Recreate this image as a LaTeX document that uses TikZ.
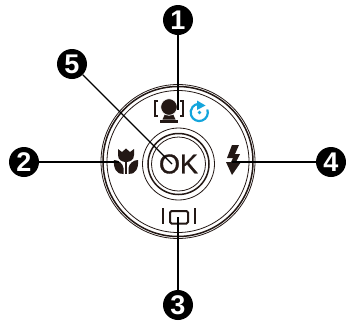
\documentclass[tikz,border=0pt]{standalone}
\usepackage{fontspec}
\setmainfont{Liberation Sans}
\newfontfamily\okfont[FakeBold=1.2]{Liberation Sans}
\definecolor{ink}{HTML}{231815}
\definecolor{cyanarrow}{HTML}{14A5DC}
\tikzset{x=1pt,y=-1pt,
 badge/.style={circle,fill=black,text=white,minimum size=30pt,inner sep=0pt,font=\fontsize{27}{27}\selectfont\bfseries},
 leader/.style={draw=black,line width=1.1pt},
 thin ring/.style={draw=ink,line width=.8pt},
 thick ring/.style={draw=ink,line width=1.5pt}}
\begin{document}
\begin{tikzpicture}
\useasboundingbox (0,0) rectangle (346,322);
\fill[white] (0,0) rectangle (346,322);
% dial rings
\draw[thin ring] (178,161.5) circle (77);
\draw[thick ring] (178,161.5) circle (75);
\draw[thin ring] (178,161.5) circle (71);
\draw[thin ring] (178.5,164) circle (36);
\draw[thick ring] (178.5,164) circle (30.5);
\draw[thin ring] (178.5,164) circle (27);
\node[font=\fontsize{27}{27}\okfont,text=ink,inner sep=0pt] (ok) at (178.5,164) {OK};
% face icon
\draw[ink,line width=2pt] (158,100.5)--(155,100.5)--(155,116)--(158,116);
\draw[ink,line width=2pt] (180,100.5)--(183,100.5)--(183,116)--(180,116);
\fill[ink] (165,114)--(173,114)--(175.5,119.5)--(162.5,119.5)--cycle;
\fill[ink] (160,120) rectangle (178,122.5);
\fill[ink,draw=white,line width=.7pt] (169,107) circle (8.3);
% cyan rotate icon
\draw[cyanarrow,line width=2.2pt] (207.3,109.5) arc[start angle=-20,end angle=262,radius=8.6];
\fill[cyanarrow] (197,100.5)--(205.5,105.5)--(197,110)--cycle;
\fill[cyanarrow] (199.5,112.5) circle (1.9);
% macro flower
\fill[ink] (118,149)--(122,152)--(126,148.5)--(130,152)--(134,149)--(134,155) .. controls (134,160) and (130,162) .. (126,162) .. controls (122,162) and (118,160) .. (118,155) -- cycle;
\fill[ink] (114,160) .. controls (119,160) and (123,164) .. (123.5,168) -- (123.5,174) .. controls (117,175) and (113,168) .. (114,160) -- cycle;
\fill[ink] (138,160) .. controls (133,160) and (129,164) .. (128.5,168) -- (128.5,174) .. controls (135,175) and (139,168) .. (138,160) -- cycle;
\fill[ink] (125,161) rectangle (127,174);
% flash
\fill[ink] (232,145)--(239,145)--(235,154)--(240,154)--(236,162)--(241,162)--(232,175)--(226,162)--(231,162)--(233,158)--(227,158)--cycle;
% burst icon
\draw[ink,line width=2pt] (163,208)--(163,224);
\draw[ink,line width=2pt] (195,208)--(195,224);
\draw[ink,line width=2pt,rounded corners=1.5pt] (170,211) rectangle (188,223.5);
% badges
\node[badge] (n1) at (178,20) {1};
\node[badge] (n2) at (24,162) {2};
\node[badge] (n3) at (178,305) {3};
\node[badge] (n4) at (331,162) {4};
\node[badge] (n5) at (72,64) {5};
\coordinate (e1) at (178,110);
\coordinate (e2) at (119,162);
\coordinate (e3) at (178,217);
\coordinate (e4) at (232,162);
\coordinate (e5) at (172,164);
\draw[leader] (n1)--(e1);
\draw[leader] (n2)--(e2);
\draw[leader] (n3)--(e3);
\draw[leader] (n4)--(e4);
\draw[leader] (n5)--(e5);
\end{tikzpicture}
\end{document}
